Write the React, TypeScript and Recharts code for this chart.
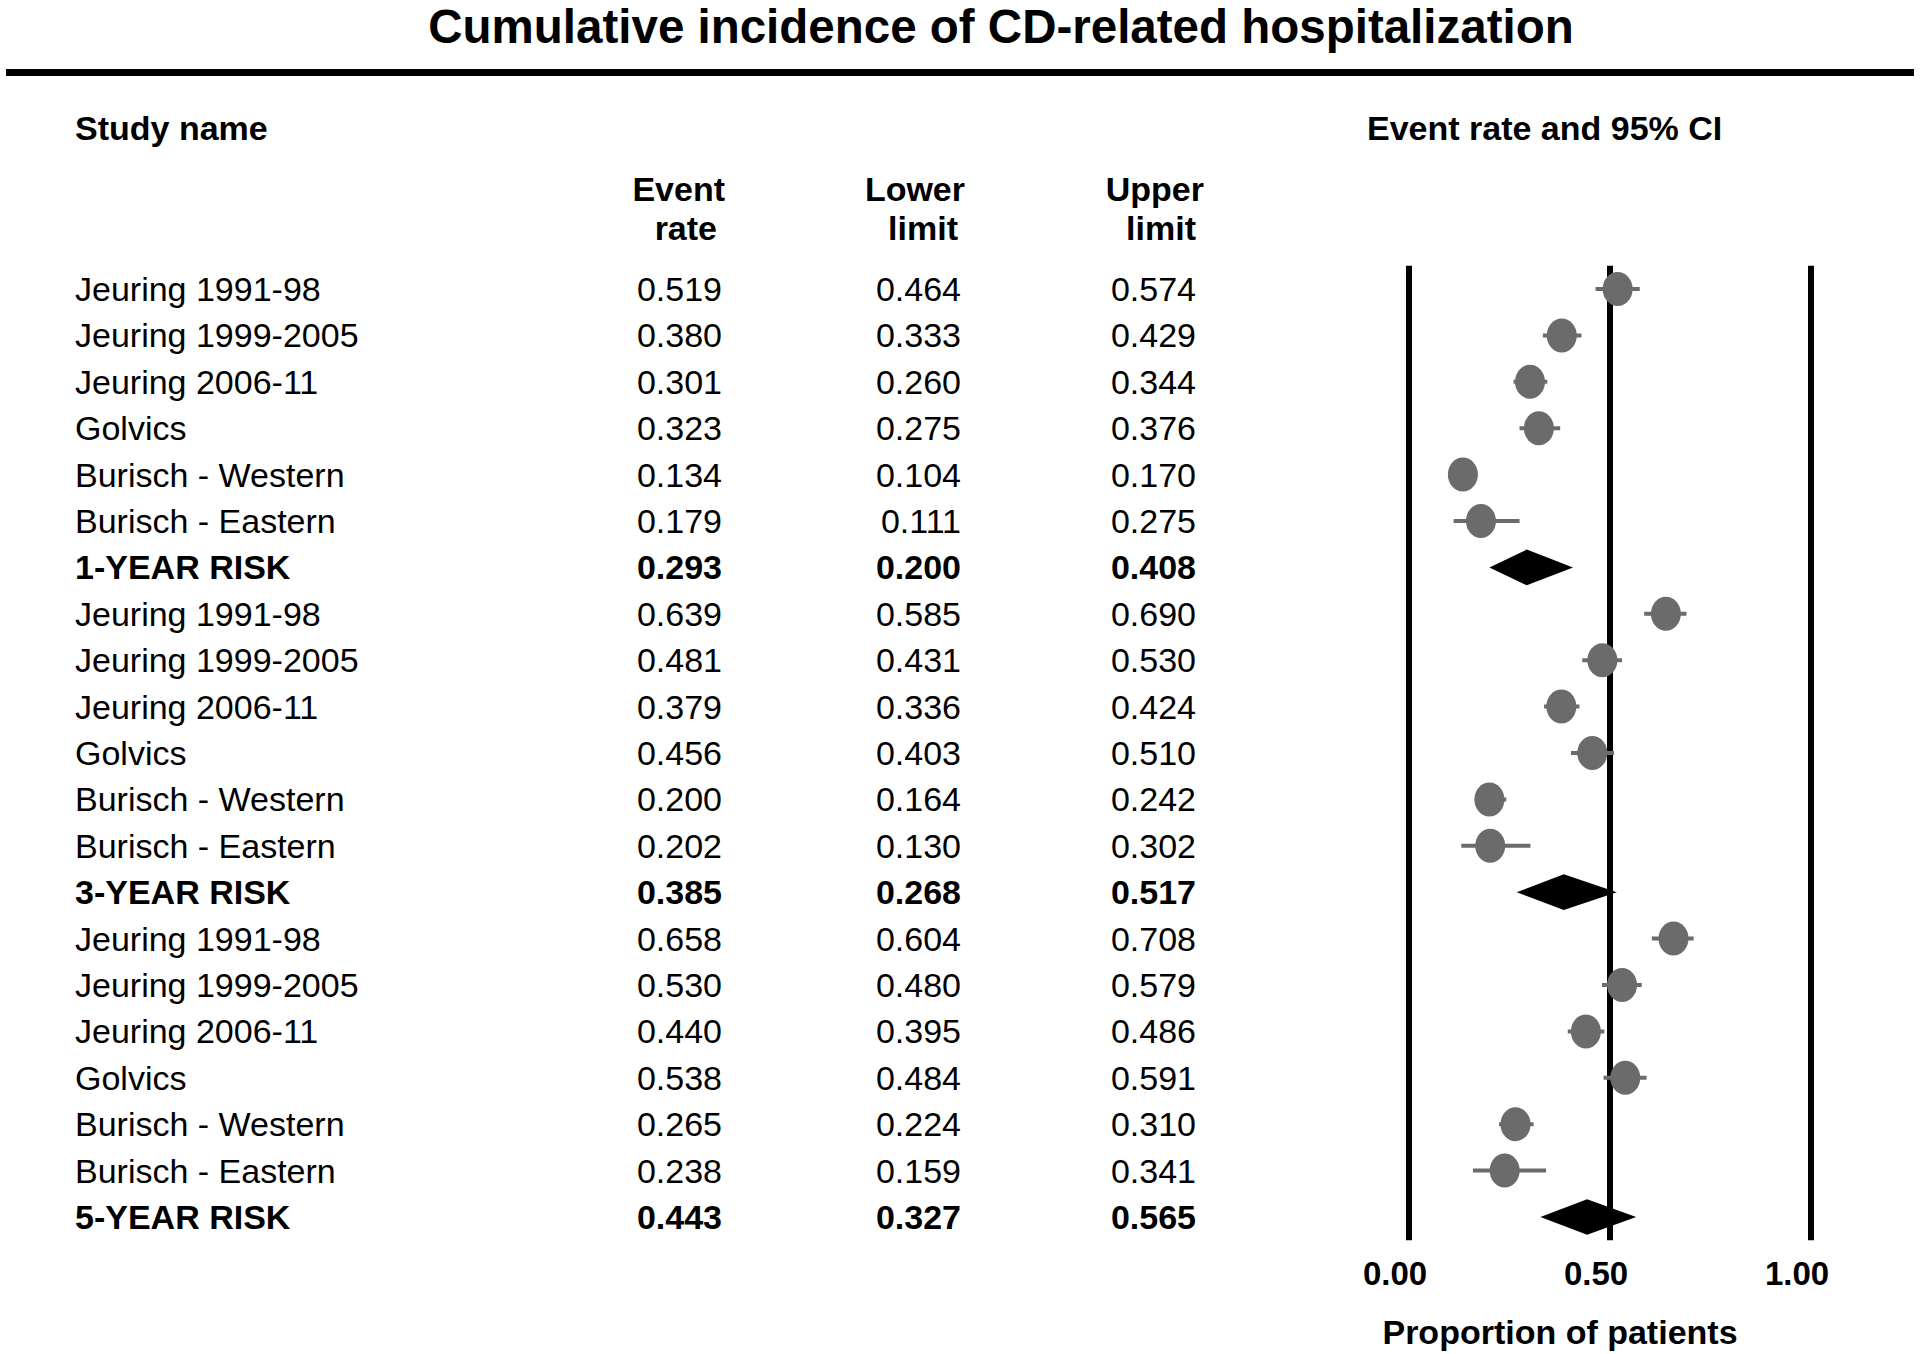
import React from "react";
import {
  ComposedChart,
  XAxis,
  YAxis,
  Scatter,
  Area,
  ErrorBar,
  ReferenceLine,
  Customized,
} from "recharts";

const FONT = "'Liberation Sans', Arial, Helvetica, sans-serif";

// ---- data ----
const studyNames = [
  "Jeuring 1991-98",
  "Jeuring 1999-2005",
  "Jeuring 2006-11",
  "Golvics",
  "Burisch - Western",
  "Burisch - Eastern",
  "1-YEAR RISK",
  "Jeuring 1991-98",
  "Jeuring 1999-2005",
  "Jeuring 2006-11",
  "Golvics",
  "Burisch - Western",
  "Burisch - Eastern",
  "3-YEAR RISK",
  "Jeuring 1991-98",
  "Jeuring 1999-2005",
  "Jeuring 2006-11",
  "Golvics",
  "Burisch - Western",
  "Burisch - Eastern",
  "5-YEAR RISK",
];
const eventRates = [
  0.519, 0.38, 0.301, 0.323, 0.134, 0.179, 0.293,
  0.639, 0.481, 0.379, 0.456, 0.2, 0.202, 0.385,
  0.658, 0.53, 0.44, 0.538, 0.265, 0.238, 0.443,
];
const lowerLimits = [
  0.464, 0.333, 0.26, 0.275, 0.104, 0.111, 0.2,
  0.585, 0.431, 0.336, 0.403, 0.164, 0.13, 0.268,
  0.604, 0.48, 0.395, 0.484, 0.224, 0.159, 0.327,
];
const upperLimits = [
  0.574, 0.429, 0.344, 0.376, 0.17, 0.275, 0.408,
  0.69, 0.53, 0.424, 0.51, 0.242, 0.302, 0.517,
  0.708, 0.579, 0.486, 0.591, 0.31, 0.341, 0.565,
];
const summaryRows = [6, 13, 20];
const xTicks = [0, 0.5, 1];
const xTickLabels = ["0.00", "0.50", "1.00"];
const referenceXs = [0, 0.5, 1];

const rowIds = studyNames.map((_, i) => i);
const studyRows = rowIds.filter((i) => !summaryRows.includes(i));

const studyData = studyRows.map((i) => ({
  x: eventRates[i],
  y: i,
  err: [eventRates[i] - lowerLimits[i], upperLimits[i] - eventRates[i]],
}));

const DIAMOND_HALF = 0.385; // half height of diamond in row units
const diamondData = summaryRows.map((i) => [
  { x: lowerLimits[i], band: [i, i] },
  { x: eventRates[i], band: [i - DIAMOND_HALF, i + DIAMOND_HALF] },
  { x: upperLimits[i], band: [i, i] },
]);

const fmt = (v: number) => v.toFixed(3);

const RowTick = (props: any) => {
  const { y, payload } = props;
  const i = payload.value as number;
  const bold = summaryRows.includes(i);
  const common = {
    fontFamily: FONT,
    fontSize: 34,
    fontWeight: bold ? 700 : 400,
    fill: "#000",
  };
  const by = y + 12;
  return (
    <g>
      <text x={75} y={by} textAnchor="start" {...common}>
        {studyNames[i]}
      </text>
      <text x={722} y={by} textAnchor="end" {...common}>
        {fmt(eventRates[i])}
      </text>
      <text x={961} y={by} textAnchor="end" {...common}>
        {fmt(lowerLimits[i])}
      </text>
      <text x={1196} y={by} textAnchor="end" {...common}>
        {fmt(upperLimits[i])}
      </text>
    </g>
  );
};

const XTick = (props: any) => {
  const { x, y, payload } = props;
  const idx = xTicks.indexOf(payload.value);
  return (
    <text
      x={x - 14}
      y={y + 45}
      textAnchor="middle"
      fontFamily={FONT}
      fontSize={33}
      fontWeight={700}
      fill="#000"
    >
      {idx >= 0 ? xTickLabels[idx] : payload.value}
    </text>
  );
};

const XLabel = (props: any) => {
  const vb = props.viewBox || { x: 1409, y: 1240, width: 402, height: 114 };
  return (
    <text
      x={vb.x + vb.width / 2 - 50}
      y={1344}
      textAnchor="middle"
      fontFamily={FONT}
      fontSize={34}
      fontWeight={700}
      fill="#000"
    >
      Proportion of patients
    </text>
  );
};

const Headers = () => {
  const h = { fontFamily: FONT, fontSize: 34, fontWeight: 700, fill: "#000" };
  return (
    <g>
      <text
        x={1001}
        y={43}
        textAnchor="middle"
        fontFamily={FONT}
        fontSize={47.5}
        fontWeight={700}
        fill="#000"
      >
        Cumulative incidence of CD-related hospitalization
      </text>
      <rect x={6} y={69} width={1908} height={7} fill="#000" />
      <text x={75} y={139.5} {...h}>
        Study name
      </text>
      <text x={1367} y={139.5} {...h}>
        Event rate and 95% CI
      </text>
      <text x={725} y={201} textAnchor="end" {...h}>
        Event
      </text>
      <text x={717} y={240} textAnchor="end" {...h}>
        rate
      </text>
      <text x={965} y={201} textAnchor="end" {...h}>
        Lower
      </text>
      <text x={958} y={240} textAnchor="end" {...h}>
        limit
      </text>
      <text x={1204} y={201} textAnchor="end" {...h}>
        Upper
      </text>
      <text x={1196} y={240} textAnchor="end" {...h}>
        limit
      </text>
    </g>
  );
};

const Dot = (props: any) => {
  const { cx, cy } = props;
  if (cx == null || cy == null) return null;
  return <ellipse cx={cx} cy={cy} rx={15} ry={17} fill="#6b6b6b" />;
};

export default function App() {
  return (
    <div
      style={{
        position: "absolute",
        left: 0,
        top: 0,
        width: 1920,
        height: 1354,
        background: "#fff",
      }}
    >
      <ComposedChart
        width={1920}
        height={1354}
        margin={{ top: 265.8, right: 109, bottom: 0, left: 0 }}
      >
        <XAxis
          type="number"
          dataKey="x"
          domain={[0, 1]}
          ticks={xTicks}
          allowDataOverflow
          axisLine={false}
          tickLine={false}
          tickSize={0}
          tickMargin={0}
          height={113.8}
          tick={<XTick />}
          label={<XLabel />}
          interval={0}
        />
        <YAxis
          type="number"
          dataKey="y"
          domain={[-0.5, 20.5]}
          reversed
          allowDataOverflow
          ticks={rowIds}
          interval={0}
          width={1409}
          axisLine={false}
          tickLine={false}
          tick={<RowTick />}
        />
        {referenceXs.map((v) => (
          <ReferenceLine
            key={v}
            x={v}
            stroke="#000"
            strokeWidth={6}
            ifOverflow="visible"
          />
        ))}
        {diamondData.map((d, k) => (
          <Area
            key={"d" + k}
            data={d}
            dataKey="band"
            type="linear"
            stroke="none"
            fill="#000"
            fillOpacity={1}
            isAnimationActive={false}
            dot={false}
            activeDot={false}
          />
        ))}
        <Scatter
          data={studyData}
          dataKey="y"
          shape={<Dot />}
          isAnimationActive={false}
        >
          <ErrorBar
            dataKey="err"
            direction="x"
            width={0}
            stroke="#6b6b6b"
            strokeWidth={4}
            isAnimationActive={false}
          />
        </Scatter>
        <Customized component={<Headers />} />
      </ComposedChart>
    </div>
  );
}
